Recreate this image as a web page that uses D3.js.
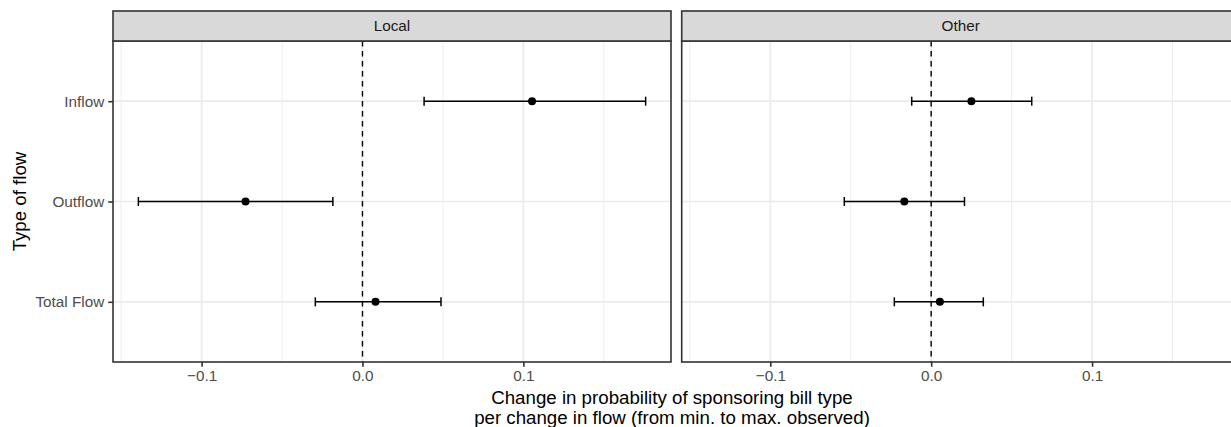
<!DOCTYPE html>
<html>
<head>
<meta charset="utf-8">
<script src="https://cdn.jsdelivr.net/npm/d3@7"></script>
<style>
  body { margin: 0; background: #fff; }
  svg { display: block; font-family: "Liberation Sans", Arial, sans-serif; }
</style>
</head>
<body>
<div id="chart"></div>
<script>
var w = 1231;
var h = 427;

// data
var panels = ["Local", "Other"];
var flows = ["Inflow", "Outflow", "Total Flow"];
var estLocal = [0.1054, -0.0727, 0.0081];
var lowLocal = [0.0383, -0.1393, -0.0293];
var highLocal = [0.1760, -0.0184, 0.0488];
var estOther = [0.0250, -0.0167, 0.0054];
var lowOther = [-0.0121, -0.0540, -0.0229];
var highOther = [0.0625, 0.0207, 0.0324];
var xTicks = [-0.1, 0.0, 0.1];
var xMinor = [-0.15, -0.05, 0.05, 0.15];

var rows = [];
for (var i = 0; i < flows.length; i++) {
  rows.push({ panel: "Local", flow: flows[i], est: estLocal[i], lo: lowLocal[i], hi: highLocal[i] });
  rows.push({ panel: "Other", flow: flows[i], est: estOther[i], lo: lowOther[i], hi: highOther[i] });
}

var panelLeft = [113, 681.7];
var panelW = 558;
var stripTop = 11, stripH = 30;
var plotTop = stripTop + stripH, plotBottom = 362;
var axisFont = 15.3, titleFont = 18.7;

var svg = d3.select("#chart")
            .append("svg")
            .attr("width", w)
            .attr("height", h);

// x domain from data with 5% expansion, like ggplot
var allLo = d3.min(lowLocal.concat(lowOther));
var allHi = d3.max(highLocal.concat(highOther));
var pad = (allHi - allLo) * 0.05;
var x = d3.scaleLinear().domain([allLo - pad, allHi + pad]).range([0, panelW]);

var y = d3.scalePoint().domain(flows).range([plotTop, plotBottom]).padding(0.6);

panels.forEach(function(p, pi) {
  var g = svg.append("g").attr("transform", "translate(" + panelLeft[pi] + ",0)");

  // minor grid
  g.selectAll(".minor")
    .data(xMinor)
    .enter()
    .append("line")
    .attr("x1", function(d) { return x(d); })
    .attr("x2", function(d) { return x(d); })
    .attr("y1", plotTop).attr("y2", plotBottom)
    .attr("stroke", "#ebebeb").attr("stroke-width", 0.9);

  // major grid x
  g.selectAll(".majx")
    .data(xTicks)
    .enter()
    .append("line")
    .attr("x1", function(d) { return x(d); })
    .attr("x2", function(d) { return x(d); })
    .attr("y1", plotTop).attr("y2", plotBottom)
    .attr("stroke", "#ebebeb").attr("stroke-width", 1.7);

  // major grid y
  g.selectAll(".majy")
    .data(flows)
    .enter()
    .append("line")
    .attr("x1", 0).attr("x2", panelW)
    .attr("y1", function(d) { return y(d); })
    .attr("y2", function(d) { return y(d); })
    .attr("stroke", "#ebebeb").attr("stroke-width", 1.7);

  // zero line
  g.append("line")
    .attr("x1", x(0)).attr("x2", x(0))
    .attr("y1", plotTop).attr("y2", plotBottom)
    .attr("stroke", "#000").attr("stroke-width", 1.4)
    .attr("stroke-dasharray", "5.5,4.5");

  var d = rows.filter(function(r) { return r.panel === p; });

  // error bars
  g.selectAll(".bar")
    .data(d)
    .enter()
    .append("line")
    .attr("x1", function(r) { return x(r.lo); })
    .attr("x2", function(r) { return x(r.hi); })
    .attr("y1", function(r) { return y(r.flow); })
    .attr("y2", function(r) { return y(r.flow); })
    .attr("stroke", "#000").attr("stroke-width", 1.5);

  ["lo", "hi"].forEach(function(k) {
    g.selectAll(".cap-" + k)
      .data(d)
      .enter()
      .append("line")
      .attr("x1", function(r) { return x(r[k]); })
      .attr("x2", function(r) { return x(r[k]); })
      .attr("y1", function(r) { return y(r.flow) - 4.5; })
      .attr("y2", function(r) { return y(r.flow) + 4.5; })
      .attr("stroke", "#000").attr("stroke-width", 1.5);
  });

  g.selectAll(".pt")
    .data(d)
    .enter()
    .append("circle")
    .attr("cx", function(r) { return x(r.est); })
    .attr("cy", function(r) { return y(r.flow); })
    .attr("r", 4)
    .attr("fill", "#000");

  // panel border
  g.append("rect")
    .attr("x", 0).attr("y", plotTop)
    .attr("width", panelW).attr("height", plotBottom - plotTop)
    .attr("fill", "none").attr("stroke", "#333").attr("stroke-width", 1.6);

  // strip
  g.append("rect")
    .attr("x", 0).attr("y", stripTop)
    .attr("width", panelW).attr("height", stripH)
    .attr("fill", "#d9d9d9").attr("stroke", "#333").attr("stroke-width", 1.6);
  g.append("text")
    .attr("x", panelW / 2).attr("y", stripTop + stripH / 2)
    .attr("dy", "0.35em")
    .attr("text-anchor", "middle")
    .attr("font-size", axisFont)
    .attr("fill", "#1a1a1a")
    .text(p);

  // x axis
  var xAxis = d3.axisBottom(x)
    .tickValues(xTicks)
    .tickSize(4.75)
    .tickPadding(3)
    .tickFormat(function(v) { return d3.format(".1f")(v).replace("-", "\u2212"); });
  var ax = g.append("g").attr("transform", "translate(0," + plotBottom + ")").call(xAxis);
  ax.select(".domain").remove();
  ax.selectAll(".tick line").attr("stroke", "#333").attr("stroke-width", 1.6);
  ax.selectAll(".tick text").attr("fill", "#4d4d4d").attr("font-size", axisFont)
    .attr("font-family", "Liberation Sans, Arial, sans-serif");

  if (pi === 0) {
    var yAxis = d3.axisLeft(y).tickSize(4.75).tickPadding(4);
    var ay = g.append("g").call(yAxis);
    ay.select(".domain").remove();
    ay.selectAll(".tick line").attr("stroke", "#333").attr("stroke-width", 1.6);
    ay.selectAll(".tick text").attr("fill", "#4d4d4d").attr("font-size", axisFont)
      .attr("font-family", "Liberation Sans, Arial, sans-serif");
  }
});

// axis titles
var cx = 672;
svg.append("text")
  .attr("x", cx).attr("y", 404)
  .attr("text-anchor", "middle")
  .attr("font-size", titleFont)
  .attr("fill", "#000")
  .text("Change in probability of sponsoring bill type");
svg.append("text")
  .attr("x", cx).attr("y", 424)
  .attr("text-anchor", "middle")
  .attr("font-size", titleFont)
  .attr("fill", "#000")
  .text("per change in flow (from min. to max. observed)");

svg.append("text")
  .attr("transform", "translate(26," + ((plotTop + plotBottom) / 2) + ") rotate(-90)")
  .attr("text-anchor", "middle")
  .attr("font-size", titleFont)
  .attr("fill", "#000")
  .text("Type of flow");
</script>
</body>
</html>
